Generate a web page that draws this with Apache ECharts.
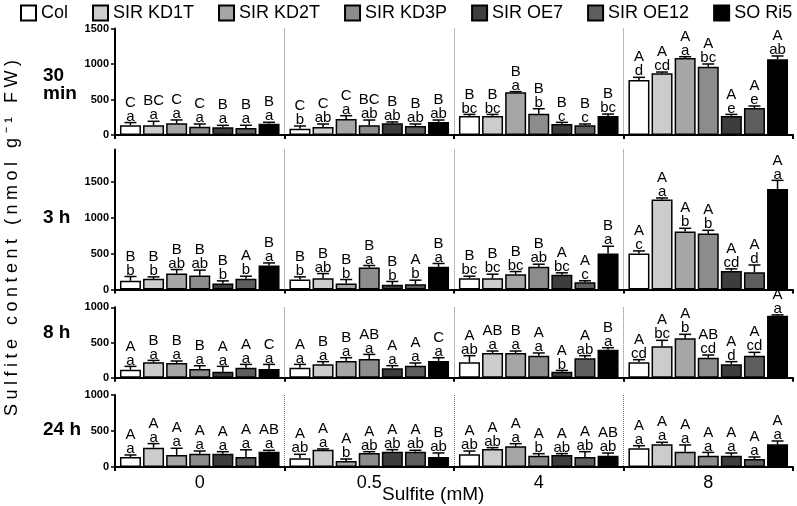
<!DOCTYPE html>
<html><head><meta charset="utf-8">
<script src="https://cdn.jsdelivr.net/npm/echarts@6/dist/echarts.min.js"></script>
<style>html,body{margin:0;padding:0;background:#fff}#c{width:797px;height:506px}</style>
</head><body><div id="c"></div>
<script>
// ---------- data ----------
const categories = ['0', '0.5', '4', '8'];
const genotypes = ['Col', 'SIR KD1T', 'SIR KD2T', 'SIR KD3P', 'SIR OE7', 'SIR OE12', 'SO Ri5'];
const panelNames = ['30\nmin', '3 h', '8 h', '24 h'];
const yMax = [1500, 1950, 1000, 1000];
const yTickValues = [[0, 500, 1000, 1500], [0, 500, 1000, 1500], [0, 500, 1000], [0, 500, 1000]];

// rows = sulfite concentration (0, 0.5, 4, 8); columns = genotypes
const mean30min = [
  [137, 137, 165, 117, 108, 99, 160],
  [89, 113, 225, 136, 165, 127, 183],
  [267, 267, 601, 300, 155, 136, 267],
  [774, 868, 1084, 962, 267, 380, 1066]
];
const err30min = [
  [38, 56, 47, 38, 28, 38, 19],
  [38, 42, 47, 75, 19, 28, 28],
  [23, 23, 10, 70, 23, 19, 28],
  [38, 19, 19, 38, 23, 28, 47]
];
const upper30min = [
  ['C', 'BC', 'C', 'C', 'B', 'B', 'B'],
  ['C', 'C', 'C', 'BC', 'B', 'B', 'B'],
  ['B', 'B', 'B', 'B', 'B', 'B', 'B'],
  ['A', 'A', 'A', 'A', 'A', 'A', 'A']
];
const lower30min = [
  ['a', 'a', 'a', 'a', 'a', 'a', 'a'],
  ['b', 'ab', 'a', 'ab', 'ab', 'ab', 'ab'],
  ['bc', 'bc', 'a', 'b', 'c', 'c', 'bc'],
  ['d', 'cd', 'a', 'bc', 'e', 'e', 'ab']
];

const mean3h = [
  [121, 148, 222, 195, 83, 148, 333],
  [139, 157, 83, 306, 65, 74, 315],
  [157, 157, 213, 315, 204, 102, 500],
  [500, 1251, 806, 778, 259, 241, 1399]
];
const err3h = [
  [60, 28, 56, 75, 37, 37, 37],
  [37, 65, 56, 28, 47, 56, 47],
  [28, 56, 37, 37, 28, 19, 102],
  [37, 23, 46, 46, 28, 100, 120]
];
const upper3h = [
  ['B', 'B', 'B', 'B', 'B', 'A', 'B'],
  ['B', 'B', 'B', 'B', 'B', 'A', 'B'],
  ['B', 'B', 'B', 'B', 'A', 'A', 'B'],
  ['A', 'A', 'A', 'A', 'A', 'A', 'A']
];
const lower3h = [
  ['b', 'b', 'ab', 'ab', 'b', 'b', 'a'],
  ['b', 'ab', 'b', 'a', 'b', 'b', 'a'],
  ['bc', 'bc', 'bc', 'ab', 'bc', 'c', 'a'],
  ['c', 'a', 'b', 'b', 'cd', 'd', 'a']
];

const mean8h = [
  [114, 218, 209, 123, 85, 142, 123],
  [142, 190, 237, 265, 133, 171, 237],
  [218, 351, 351, 313, 85, 275, 398],
  [218, 446, 559, 284, 190, 313, 880]
];
const err8h = [
  [47, 28, 28, 47, 76, 47, 66],
  [47, 38, 47, 66, 38, 38, 47],
  [95, 28, 28, 38, 19, 38, 28],
  [38, 85, 57, 38, 38, 47, 12]
];
const upper8h = [
  ['A', 'B', 'B', 'B', 'A', 'A', 'C'],
  ['A', 'B', 'B', 'AB', 'A', 'A', 'C'],
  ['A', 'AB', 'B', 'A', 'A', 'A', 'B'],
  ['A', 'A', 'A', 'AB', 'A', 'A', 'A']
];
const lower8h = [
  ['a', 'a', 'a', 'a', 'a', 'a', 'a'],
  ['a', 'a', 'a', 'a', 'a', 'a', 'a'],
  ['ab', 'a', 'a', 'a', 'b', 'ab', 'a'],
  ['cd', 'bc', 'b', 'cd', 'd', 'cd', 'a']
];

const mean24h = [
  [139, 269, 167, 185, 185, 139, 213],
  [120, 241, 83, 194, 213, 213, 139],
  [176, 250, 287, 157, 167, 139, 157],
  [259, 315, 213, 157, 157, 111, 315]
];
const err24h = [
  [28, 56, 93, 37, 28, 100, 19],
  [56, 10, 28, 19, 28, 19, 56],
  [46, 19, 37, 28, 19, 74, 37],
  [37, 28, 93, 46, 37, 28, 46]
];
const upper24h = [
  ['A', 'A', 'A', 'A', 'A', 'A', 'AB'],
  ['A', 'A', 'A', 'A', 'A', 'A', 'B'],
  ['A', 'A', 'A', 'A', 'A', 'A', 'AB'],
  ['A', 'A', 'A', 'A', 'A', 'A', 'A']
];
const lower24h = [
  ['a', 'a', 'a', 'a', 'a', 'a', 'a'],
  ['ab', 'a', 'b', 'ab', 'ab', 'ab', 'ab'],
  ['ab', 'ab', 'a', 'b', 'ab', 'ab', 'ab'],
  ['a', 'a', 'a', 'a', 'a', 'a', 'a']
];

// ---------- styling / layout ----------
const FONT = '"Liberation Sans", Arial, sans-serif';
const colors = ['#ffffff', '#cccccc', '#a6a6a6', '#8c8c8c', '#3d3d3d', '#5e5e5e', '#000000'];
const BAR_W = 21, PITCH = 23.1;
const gridBoxes = [
  { top: 28.5, height: 106.5 },
  { top: 149.4, height: 140.1 },
  { top: 307.3, height: 70.4 },
  { top: 395, height: 72 }
];
const panels = [
  { mean: mean30min, err: err30min, up: upper30min, lo: lower30min },
  { mean: mean3h, err: err3h, up: upper3h, lo: lower3h },
  { mean: mean8h, err: err8h, up: upper8h, lo: lower8h },
  { mean: mean24h, err: err24h, up: upper24h, lo: lower24h }
];
const panelLabelY = [85, 218, 333, 430];

const grids = [], xAxes = [], yAxes = [], series = [];
panels.forEach((P, p) => {
  grids.push({ left: 115, right: 4, top: gridBoxes[p].top, height: gridBoxes[p].height });
  xAxes.push({
    type: 'category', gridIndex: p, data: categories, boundaryGap: true,
    axisLine: { lineStyle: { color: '#000', width: 2 } },
    axisTick: { show: true, length: 4, lineStyle: { color: '#000', width: 2 } },
    axisLabel: { show: p === 3, fontSize: 18, color: '#000', margin: 7, fontFamily: FONT },
    splitLine: { show: true, showMinLine: false, showMaxLine: false, lineStyle: { color: '#777', type: 'dotted', width: 1 } }
  });
  yAxes.push({
    type: 'value', gridIndex: p, min: 0, max: yMax[p], interval: 500,
    axisLine: { show: true, lineStyle: { color: '#000', width: 2 } },
    axisTick: { show: true, length: 4, customValues: yTickValues[p], lineStyle: { color: '#000', width: 1.5 } },
    axisLabel: { customValues: yTickValues[p], fontSize: 11, fontWeight: 'bold', color: '#000', margin: 6, fontFamily: FONT,
      formatter: v => (v % 500 === 0 ? String(v) : '') },
    splitLine: { show: false }
  });
  genotypes.forEach((g, gi) => {
    series.push({
      type: 'bar', name: g, xAxisIndex: p, yAxisIndex: p,
      data: P.mean.map(r => r[gi]),
      barWidth: BAR_W, barGap: '10%',
      itemStyle: { color: colors[gi], borderColor: '#000', borderWidth: 1.5 },
      animation: false
    });
  });
  const errData = [];
  P.mean.forEach((row, c) => row.forEach((v, gi) => errData.push([c, gi, v, P.err[c][gi]])));
  series.push({
    type: 'custom', xAxisIndex: p, yAxisIndex: p, z: 5, clip: false, animation: false,
    encode: { x: 0, y: 2 },
    data: errData,
    renderItem: (params, api) => {
      const c = api.value(0), gi = api.value(1), v = api.value(2), e = api.value(3);
      const base = api.coord([c, 0]);
      const x = base[0] + (gi - 3) * PITCH;
      const yv = api.coord([c, v])[1];
      const yt = api.coord([c, v + e])[1];
      return {
        type: 'group', children: [
          { type: 'line', shape: { x1: x, y1: yv, x2: x, y2: yt }, style: { stroke: '#000', lineWidth: 1.5 } },
          { type: 'line', shape: { x1: x - 6, y1: yt, x2: x + 6, y2: yt }, style: { stroke: '#000', lineWidth: 1.5 } },
          { type: 'text', x: x, y: yt + 1, style: { text: P.up[c][gi] + '\n' + P.lo[c][gi], align: 'center', verticalAlign: 'bottom',
              fontSize: 15, fontFamily: FONT, lineHeight: 14, fill: '#000' } }
        ]
      };
    }
  });
});

const spaced = 'Sulfite content (nmol g\u207B\u00B9 FW)'.split('').join('\u2005');

const graphics = panelNames.map((t, p) => ({
  type: 'text', x: 43, y: panelLabelY[p],
  style: { text: t, fontSize: 19, fontWeight: 'bold', fontFamily: FONT, lineHeight: 18, fill: '#000', verticalAlign: 'middle', align: 'left' }
}));
graphics.push({
  type: 'text', x: 12, y: 238, rotation: Math.PI / 2,
  style: { text: spaced, fontSize: 18, fontFamily: FONT, fill: '#000', align: 'center', verticalAlign: 'middle' }
});
graphics.push({
  type: 'text', x: 382, y: 495,
  style: { text: 'Sulfite (mM)', fontSize: 19, fontFamily: FONT, fill: '#000', align: 'left', verticalAlign: 'middle' }
});

const chart = echarts.init(document.getElementById('c'), null, { renderer: 'canvas' });
chart.setOption({
  animation: false,
  backgroundColor: '#fff',
  legend: {
    data: genotypes, top: 4, left: 20, icon: 'rect', itemWidth: 15, itemHeight: 15, itemGap: 24, padding: 0,
    textStyle: { fontSize: 18, color: '#000', fontFamily: FONT }
  },
  grid: grids, xAxis: xAxes, yAxis: yAxes, series: series, graphic: graphics
});
</script>
</body></html>
